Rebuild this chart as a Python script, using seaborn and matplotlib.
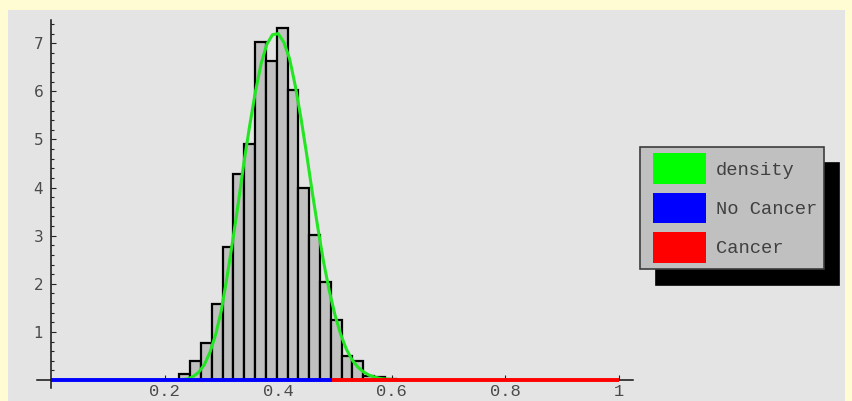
import numpy as np
import pandas as pd
import matplotlib
matplotlib.use("Agg")
import matplotlib.pyplot as plt
import seaborn as sns
from matplotlib.patches import Patch, Rectangle
from matplotlib.legend_handler import HandlerPatch

# Histogram of the risk score, on a density scale
bin_start = 0.2259
bin_width = 0.01905
bin_density = [0.12, 0.40, 0.76, 1.57, 2.77, 4.28, 4.90, 7.03, 6.63, 7.32,
               6.03, 4.00, 3.02, 2.04, 1.24, 0.50, 0.40, 0.08, 0.06, 0.03]

# Fitted density curve sampled along the score axis
curve_x = [0.22, 0.23, 0.24, 0.25, 0.26, 0.27, 0.28, 0.29, 0.30, 0.31,
           0.32, 0.33, 0.34, 0.35, 0.36, 0.37, 0.38, 0.39, 0.40, 0.41,
           0.42, 0.43, 0.44, 0.45, 0.46, 0.47, 0.48, 0.49, 0.50, 0.51,
           0.52, 0.53, 0.54, 0.55, 0.56, 0.57, 0.58, 0.59, 0.60, 0.61]
curve_y = [0.00, 0.01, 0.02, 0.07, 0.16, 0.32, 0.58, 0.95, 1.45, 2.15,
           2.90, 3.70, 4.55, 5.30, 6.00, 6.58, 6.98, 7.18, 7.20, 7.02,
           6.68, 6.12, 5.45, 4.70, 3.90, 3.15, 2.45, 1.85, 1.35, 0.95,
           0.64, 0.42, 0.27, 0.17, 0.10, 0.06, 0.03, 0.02, 0.01, 0.00]

# Score range and the cut-off between the two outcome ranges
score_min, score_max = 0.0, 1.0
threshold = 0.495

x_ticks = [0.2, 0.4, 0.6, 0.8, 1.0]
x_tick_labels = ["0.2", "0.4", "0.6", "0.8", "1"]
y_ticks = [1, 2, 3, 4, 5, 6, 7]
y_tick_labels = ["1", "2", "3", "4", "5", "6", "7"]
legend_labels = ["density", "No Cancer", "Cancer"]

GREEN, BLUE, RED = "#00ff00", "#0000ff", "#ff0000"
CURVE_GREEN = "#22e622"

W, H = 852, 401
fig = plt.figure(figsize=(W / 100, H / 100), dpi=100)
fig.patch.set_facecolor("#fffcd4")
fig.add_artist(Rectangle((8 / W, 0), 837 / W, 391 / H, transform=fig.transFigure,
                         facecolor="#e4e4e4", edgecolor="none", zorder=-1))

# axes box in pixels; the origin sits at (51, 380) with 568 px per unit in x
# and 48.1 px per unit in y
L, R, T, B = 30, 640, 15, 395
x0, sx, y0, sy = 51, 568, 380, 48.1
ax = fig.add_axes([L / W, (H - B) / H, (R - L) / W, (B - T) / H])
ax.set_facecolor("none")

edges = [float(bin_start + bin_width * i) for i in range(len(bin_density) + 1)]
hist_df = pd.DataFrame({"score": [e + bin_width / 2 for e in edges[:-1]],
                        "density": bin_density})
sns.histplot(data=hist_df, x="score", weights="density", bins=edges, stat="count",
             color="#c0c0c0", edgecolor="black", linewidth=1.6, alpha=1,
             ax=ax, zorder=2)

sns.lineplot(x=curve_x, y=curve_y, color=CURVE_GREEN, linewidth=2.2,
             ax=ax, zorder=4)

sns.lineplot(x=[score_min, threshold], y=[0, 0], color=BLUE, linewidth=2.8,
             solid_capstyle="butt", ax=ax, zorder=5)
sns.lineplot(x=[threshold, score_max], y=[0, 0], color=RED, linewidth=2.8,
             solid_capstyle="butt", ax=ax, zorder=5)

ax.set_xlim((L - x0) / sx, (R - x0) / sx)
ax.set_ylim((y0 - B) / sy, (y0 - T) / sy)
ax.set_xlabel("")
ax.set_ylabel("")

for side in ("top", "right"):
    ax.spines[side].set_visible(False)
for side in ("left", "bottom"):
    ax.spines[side].set_position(("data", 0))
    ax.spines[side].set_linewidth(1.1)
    ax.spines[side].set_color("#111111")
ax.spines["left"].set_bounds(-0.17, 7.48)
ax.spines["bottom"].set_bounds(-0.025, 1.025)

ax.set_xticks(x_ticks, x_tick_labels)
ax.set_xticks([v for v in np.arange(0.04, 1.0, 0.04)
               if abs(v / 0.2 - round(v / 0.2)) > 1e-6], minor=True)
ax.set_yticks(y_ticks, y_tick_labels)
ax.set_yticks([v for v in np.arange(0.2, 7.5, 0.2)
               if abs(v - round(v)) > 1e-6], minor=True)

ax.tick_params(which="both", direction="in", color="#222222", width=0.8)
ax.tick_params(which="major", length=3.4)
ax.tick_params(which="minor", length=1.8)
ax.tick_params(axis="x", which="major", pad=3.0, labelsize=12.3, labelcolor="#4a4a4a")
ax.tick_params(axis="y", which="major", pad=5.5, labelsize=11, labelcolor="#4a4a4a")
for lab in ax.get_xticklabels():
    lab.set_fontfamily("Liberation Mono")
for lab in ax.get_yticklabels():
    lab.set_fontfamily("DejaVu Sans")


def _swatch(legend, orig_handle, xdescent, ydescent, width, height, fontsize):
    inset = width * 6 / 59
    return Rectangle((-xdescent + inset, -ydescent), width - inset, height)


handles = [Patch(facecolor=c, edgecolor="none", label=lab)
           for c, lab in zip([GREEN, BLUE, RED], legend_labels)]
leg = ax.legend(handles=handles, handler_map={Patch: HandlerPatch(patch_func=_swatch)},
                loc="upper left", bbox_to_anchor=(640 / W, 1 - 146.7 / H),
                bbox_transform=fig.transFigure, borderaxespad=0,
                borderpad=0.356, handlelength=3.15, handleheight=2.14,
                handletextpad=0.53, labelspacing=0.46,
                prop={"family": "Liberation Mono", "size": 13.5},
                labelcolor="#404040", fancybox=False, framealpha=1,
                facecolor="#c0c0c0", edgecolor="#3c3c3c",
                shadow={"ox": 11.2, "oy": -11.5, "color": "black", "alpha": 1})
leg.get_frame().set_linewidth(1.2)

fig.savefig("out.png", dpi=100, facecolor=fig.get_facecolor())
